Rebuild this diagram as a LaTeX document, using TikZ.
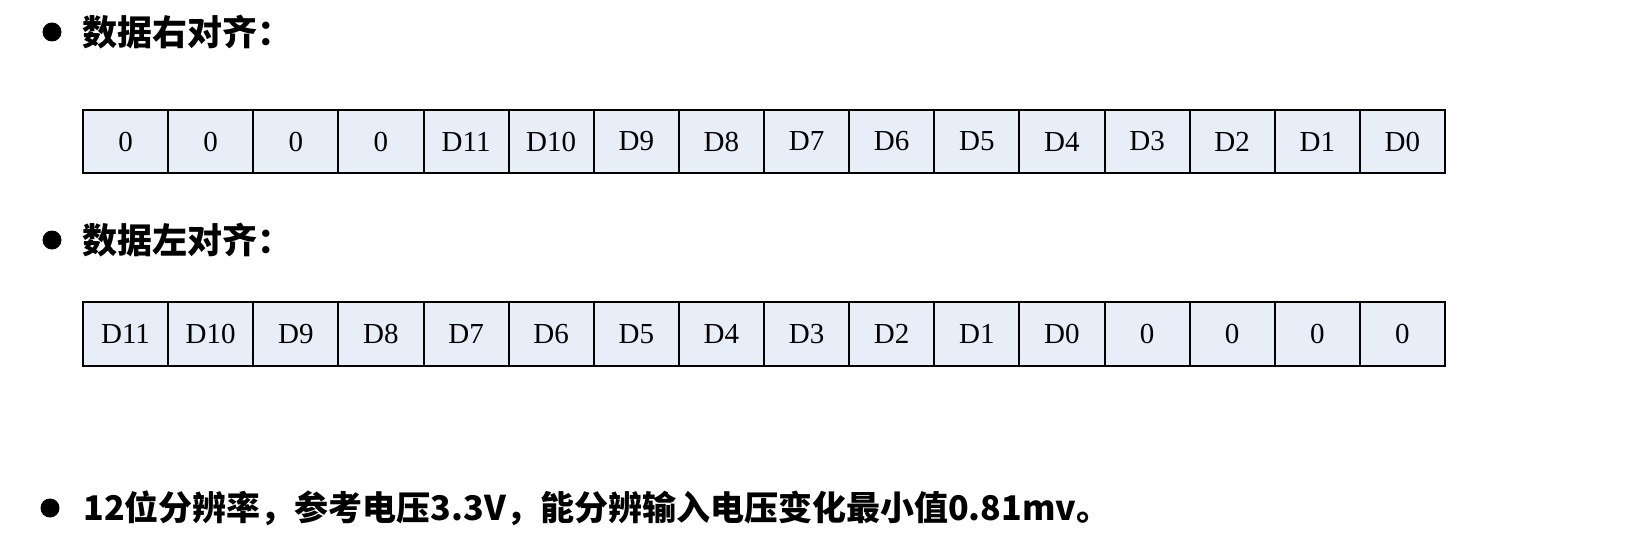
\documentclass[tikz,border=0pt]{standalone}
\usepackage{fontspec}
\setmainfont{Liberation Serif}
\newfontfamily\cjk{Noto Sans CJK SC}
\usetikzlibrary{positioning}
\definecolor{cellblue}{RGB}{232,238,248}

\begin{document}
\begin{tikzpicture}[x=0.5pt, y=-0.5pt,
  cell/.style={draw, line width=1pt, fill=cellblue, minimum width=42.56pt, minimum height=31.6pt, inner sep=0pt, outer sep=0pt, font=\fontsize{14.5}{15}\selectfont},
  head/.style={anchor=west, inner sep=0pt, font=\cjk\bfseries\fontsize{17.5}{20}\selectfont},
  dot/.style={circle, fill=black, minimum size=9.5pt, inner sep=0pt}]
\useasboundingbox (0,0) rectangle (1625,556);
% right aligned
\node[dot] (b1) at (52,32) {};
\node[head] (h1) at (82,32) {数据右对齐：};
\foreach \t [count=\i] in {0,0,0,0,D11,D10,D9,D8,D7,D6,D5,D4,D3,D2,D1,D0}
  \node[cell] (r\i) at ({83+85.125*(\i-0.5)},141.5) {\t};
% left aligned
\node[dot] (b2) at (52,240) {};
\node[head] (h2) at (82,240) {数据左对齐：};
\foreach \t [count=\i] in {D11,D10,D9,D8,D7,D6,D5,D4,D3,D2,D1,D0,0,0,0,0}
  \node[cell] (l\i) at ({83+85.125*(\i-0.5)},334) {\t};
% resolution
\node[dot] (b3) at (50,508) {};
\node[head, font=\cjk\bfseries\fontsize{17}{20}\selectfont] (h3) at (83,508) {12位分辨率，参考电压3.3V，能分辨输入电压变化最小值0.81mv。};
\end{tikzpicture}
\end{document}
